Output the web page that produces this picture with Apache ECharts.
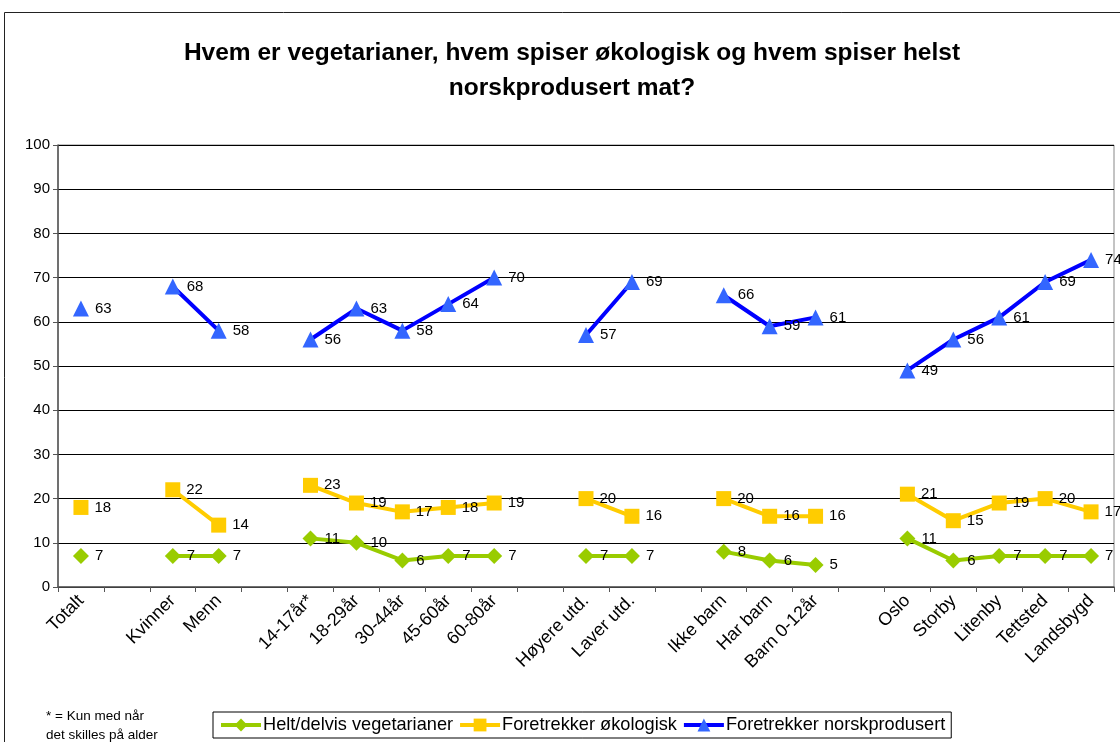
<!DOCTYPE html>
<html>
<head>
<meta charset="utf-8">
<script src="https://cdn.jsdelivr.net/npm/echarts@6/dist/echarts.min.js"></script>
<style>
  html, body { margin: 0; padding: 0; background: #fff; }
  #chart { width: 1120px; height: 742px; }
</style>
</head>
<body>
<div id="chart"></div>
<script>
// categories, the blank ones are the gaps between groups
var kategorier = ['Totalt', '', 'Kvinner', 'Menn', ' ', '14-17år*', '18-29år', '30-44år', '45-60år', '60-80år', '  ',
    'Høyere utd.', 'Laver utd.', '   ', 'Ikke barn', 'Har barn', 'Barn 0-12år', '    ',
    'Oslo', 'Storby', 'Litenby', 'Tettsted', 'Landsbygd'];

var vegetarianer = [7, '-', 7, 7, '-', 11, 10, 6, 7, 7, '-', 7, 7, '-', 8, 6, 5, '-', 11, 6, 7, 7, 7];
var okologisk = [18, '-', 22, 14, '-', 23, 19, 17, 18, 19, '-', 20, 16, '-', 20, 16, 16, '-', 21, 15, 19, 20, 17];
var norskprodusert = [63, '-', 68, 58, '-', 56, 63, 58, 64, 70, '-', 57, 69, '-', 66, 59, 61, '-', 49, 56, 61, 69, 74];

var chart = document.getElementById('chart');
var myChart = echarts.init(chart);

var label = {
    show: true,
    position: 'right',
    distance: 6,
    color: '#000',
    fontSize: 15,
    fontFamily: 'Liberation Sans'
};

var option = {
    backgroundColor: '#fff',
    textStyle: { fontFamily: 'Liberation Sans' },
    animation: false,
    title: {
        text: 'Hvem er vegetarianer, hvem spiser økologisk og hvem spiser helst\nnorskprodusert mat?',
        left: 567,
        top: 31,
        textAlign: 'center',
        textStyle: {
            fontSize: 24.5,
            fontWeight: 'bold',
            color: '#000',
            lineHeight: 35,
            fontFamily: 'Liberation Sans'
        }
    },
    grid: {
        left: 58, right: 6, top: 145, bottom: 155,
        show: true, borderColor: '#888', borderWidth: 1
    },
    legend: {
        left: 213,
        top: 712,
        padding: [4, 6, 4, 6],
        borderColor: '#000',
        borderWidth: 1,
        itemWidth: 40,
        itemHeight: 16,
        itemGap: 5,
        lineStyle: { width: 4 },
        textStyle: { fontSize: 18.2, color: '#000', padding: [0, 0, 0, -3] },
        data: ['Helt/delvis vegetarianer', 'Foretrekker økologisk', 'Foretrekker norskprodusert']
    },
    xAxis: {
        type: 'category',
        data: kategorier,
        axisLine: { lineStyle: { color: '#555', width: 1.5 } },
        axisTick: { show: true, interval: 0, length: 5, lineStyle: { color: '#555' } },
        axisLabel: {
            interval: 0,
            rotate: 45,
            margin: 11,
            fontSize: 18,
            color: '#000'
        }
    },
    yAxis: {
        type: 'value',
        min: 0,
        max: 100,
        interval: 10,
        axisLine: { show: true, lineStyle: { color: '#555', width: 1.5 } },
        axisTick: { show: true, length: 5, lineStyle: { color: '#555' } },
        axisLabel: { fontSize: 15, color: '#000', margin: 8 },
        splitLine: { lineStyle: { color: '#000', width: 1 } }
    },
    series: [{
        name: 'Helt/delvis vegetarianer',
        type: 'line',
        data: vegetarianer,
        symbol: 'diamond',
        symbolSize: 16,
        lineStyle: { color: '#99CC00', width: 4 },
        itemStyle: { color: '#99CC00' },
        label: label,
        z: 3
    }, {
        name: 'Foretrekker økologisk',
        type: 'line',
        data: okologisk,
        symbol: 'rect',
        symbolSize: 15,
        lineStyle: { color: '#FFCC00', width: 4 },
        itemStyle: { color: '#FFCC00' },
        label: label,
        z: 4
    }, {
        name: 'Foretrekker norskprodusert',
        type: 'line',
        data: norskprodusert,
        symbol: 'triangle',
        symbolSize: 16,
        lineStyle: { color: '#0000FF', width: 4 },
        itemStyle: { color: '#3366FF' },
        label: label,
        z: 5
    }],
    graphic: [{
        type: 'rect',
        shape: { x: 4.5, y: 12.5, width: 1200, height: 800 },
        style: { fill: 'none', stroke: '#222', lineWidth: 1 },
        silent: true
    }, {
        type: 'text',
        left: 46,
        top: 707,
        style: {
            text: '* = Kun med når\ndet skilles på alder',
            fontSize: 13.5,
            lineHeight: 19,
            fill: '#000',
            fontFamily: 'Liberation Sans'
        }
    }]
};
myChart.setOption(option);
</script>
</body>
</html>
